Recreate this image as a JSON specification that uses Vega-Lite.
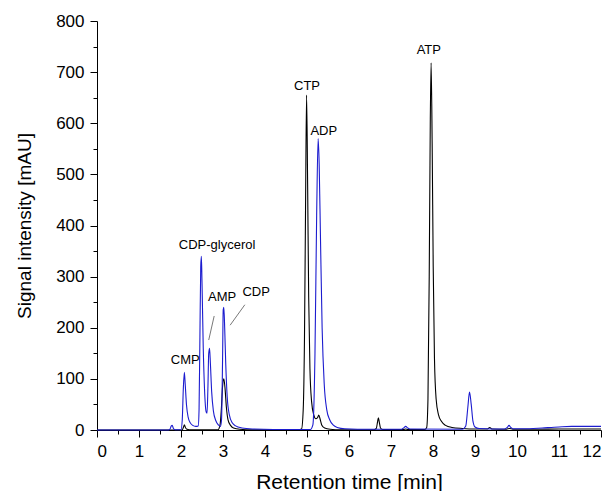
{
  "$schema": "https://vega.github.io/schema/vega-lite/v6.json",
  "width": 504,
  "height": 409,
  "autosize": {"type": "none"},
  "padding": {"left": 97, "top": 21, "right": 13, "bottom": 61},
  "background": "white",
  "config": {
    "view": {"stroke": null},
    "font": "Liberation Sans",
    "axis": {
      "grid": false,
      "domainColor": "black",
      "tickColor": "black",
      "labelColor": "black",
      "titleColor": "black",
      "labelFont": "Liberation Sans",
      "titleFont": "Liberation Sans",
      "labelFontSize": 17,
      "titleFontSize": 19,
      "titleFontWeight": "normal",
      "domainWidth": 1,
      "tickWidth": 1
    }
  },
  "datasets": {
    "traces": [
      {"s": "a", "t": 0, "v": 0}, {"s": "a", "t": 1.9, "v": 0}, {"s": "a", "t": 2.03, "v": 0}, {"s": "a", "t": 2.06, "v": 6}, {"s": "a", "t": 2.08, "v": 10}, {"s": "a", "t": 2.1, "v": 6}, {"s": "a", "t": 2.13, "v": 2}, {"s": "a", "t": 2.2, "v": 0.5}, {"s": "a", "t": 2.5, "v": 0.3}, {"s": "a", "t": 2.88, "v": 0.5}, {"s": "a", "t": 2.93, "v": 10}, {"s": "a", "t": 2.96, "v": 40}, {"s": "a", "t": 2.99, "v": 85}, {"s": "a", "t": 3.02, "v": 100}, {"s": "a", "t": 3.05, "v": 80}, {"s": "a", "t": 3.08, "v": 45}, {"s": "a", "t": 3.12, "v": 20}, {"s": "a", "t": 3.18, "v": 9}, {"s": "a", "t": 3.25, "v": 4}, {"s": "a", "t": 3.4, "v": 1.5}, {"s": "a", "t": 3.7, "v": 0.5}, {"s": "a", "t": 4.8, "v": 0.5},
      {"s": "a", "t": 4.87, "v": 2}, {"s": "a", "t": 4.91, "v": 40}, {"s": "a", "t": 4.94, "v": 180}, {"s": "a", "t": 4.965, "v": 430}, {"s": "a", "t": 4.99, "v": 655}, {"s": "a", "t": 5.015, "v": 480}, {"s": "a", "t": 5.04, "v": 260}, {"s": "a", "t": 5.07, "v": 120}, {"s": "a", "t": 5.11, "v": 55}, {"s": "a", "t": 5.16, "v": 30}, {"s": "a", "t": 5.21, "v": 22}, {"s": "a", "t": 5.25, "v": 24}, {"s": "a", "t": 5.28, "v": 29}, {"s": "a", "t": 5.31, "v": 22}, {"s": "a", "t": 5.35, "v": 10}, {"s": "a", "t": 5.42, "v": 4}, {"s": "a", "t": 5.55, "v": 1.5}, {"s": "a", "t": 5.8, "v": 0.5},
      {"s": "a", "t": 6.6, "v": 0.5}, {"s": "a", "t": 6.65, "v": 3}, {"s": "a", "t": 6.68, "v": 16}, {"s": "a", "t": 6.7, "v": 24}, {"s": "a", "t": 6.72, "v": 16}, {"s": "a", "t": 6.75, "v": 4}, {"s": "a", "t": 6.8, "v": 1}, {"s": "a", "t": 7.3, "v": 1}, {"s": "a", "t": 7.35, "v": 2}, {"s": "a", "t": 7.4, "v": 1},
      {"s": "a", "t": 7.8, "v": 0.8}, {"s": "a", "t": 7.85, "v": 5}, {"s": "a", "t": 7.88, "v": 60}, {"s": "a", "t": 7.91, "v": 300}, {"s": "a", "t": 7.935, "v": 600}, {"s": "a", "t": 7.955, "v": 718}, {"s": "a", "t": 7.98, "v": 560}, {"s": "a", "t": 8.005, "v": 320}, {"s": "a", "t": 8.035, "v": 140}, {"s": "a", "t": 8.075, "v": 60}, {"s": "a", "t": 8.13, "v": 30}, {"s": "a", "t": 8.2, "v": 17}, {"s": "a", "t": 8.3, "v": 9}, {"s": "a", "t": 8.45, "v": 5}, {"s": "a", "t": 8.7, "v": 3}, {"s": "a", "t": 9.0, "v": 2}, {"s": "a", "t": 9.3, "v": 2}, {"s": "a", "t": 9.35, "v": 5}, {"s": "a", "t": 9.4, "v": 2}, {"s": "a", "t": 9.75, "v": 1.5}, {"s": "a", "t": 9.82, "v": 3}, {"s": "a", "t": 9.9, "v": 1.5}, {"s": "a", "t": 10.5, "v": 1.5}, {"s": "a", "t": 11, "v": 2}, {"s": "a", "t": 12, "v": 2},
      {"s": "b", "t": 0, "v": 0}, {"s": "b", "t": 1.7, "v": 0}, {"s": "b", "t": 1.74, "v": 2}, {"s": "b", "t": 1.77, "v": 8}, {"s": "b", "t": 1.79, "v": 9}, {"s": "b", "t": 1.82, "v": 3}, {"s": "b", "t": 1.86, "v": 0.5}, {"s": "b", "t": 2.0, "v": 0.5}, {"s": "b", "t": 2.03, "v": 20}, {"s": "b", "t": 2.055, "v": 80}, {"s": "b", "t": 2.08, "v": 113}, {"s": "b", "t": 2.1, "v": 90}, {"s": "b", "t": 2.13, "v": 50}, {"s": "b", "t": 2.17, "v": 25}, {"s": "b", "t": 2.22, "v": 14}, {"s": "b", "t": 2.28, "v": 9}, {"s": "b", "t": 2.35, "v": 7}, {"s": "b", "t": 2.41, "v": 8}, {"s": "b", "t": 2.43, "v": 40}, {"s": "b", "t": 2.45, "v": 180}, {"s": "b", "t": 2.47, "v": 320}, {"s": "b", "t": 2.485, "v": 340}, {"s": "b", "t": 2.5, "v": 290}, {"s": "b", "t": 2.53, "v": 160}, {"s": "b", "t": 2.56, "v": 80}, {"s": "b", "t": 2.6, "v": 35}, {"s": "b", "t": 2.62, "v": 33}, {"s": "b", "t": 2.64, "v": 80}, {"s": "b", "t": 2.66, "v": 150}, {"s": "b", "t": 2.68, "v": 160}, {"s": "b", "t": 2.7, "v": 130}, {"s": "b", "t": 2.73, "v": 75}, {"s": "b", "t": 2.77, "v": 38}, {"s": "b", "t": 2.83, "v": 18}, {"s": "b", "t": 2.89, "v": 10}, {"s": "b", "t": 2.94, "v": 7}, {"s": "b", "t": 2.965, "v": 20}, {"s": "b", "t": 2.99, "v": 140}, {"s": "b", "t": 3.005, "v": 235}, {"s": "b", "t": 3.02, "v": 240}, {"s": "b", "t": 3.04, "v": 200}, {"s": "b", "t": 3.065, "v": 130}, {"s": "b", "t": 3.1, "v": 65}, {"s": "b", "t": 3.15, "v": 30}, {"s": "b", "t": 3.22, "v": 14}, {"s": "b", "t": 3.3, "v": 8}, {"s": "b", "t": 3.45, "v": 4}, {"s": "b", "t": 3.7, "v": 2}, {"s": "b", "t": 4.2, "v": 1},
      {"s": "b", "t": 5.08, "v": 1}, {"s": "b", "t": 5.14, "v": 10}, {"s": "b", "t": 5.19, "v": 150}, {"s": "b", "t": 5.23, "v": 420}, {"s": "b", "t": 5.265, "v": 570}, {"s": "b", "t": 5.29, "v": 520}, {"s": "b", "t": 5.32, "v": 380}, {"s": "b", "t": 5.36, "v": 200}, {"s": "b", "t": 5.41, "v": 90}, {"s": "b", "t": 5.47, "v": 40}, {"s": "b", "t": 5.54, "v": 20}, {"s": "b", "t": 5.62, "v": 10}, {"s": "b", "t": 5.72, "v": 5}, {"s": "b", "t": 5.9, "v": 2.5}, {"s": "b", "t": 6.5, "v": 1.5}, {"s": "b", "t": 7.25, "v": 1.5}, {"s": "b", "t": 7.3, "v": 4}, {"s": "b", "t": 7.35, "v": 7}, {"s": "b", "t": 7.4, "v": 4}, {"s": "b", "t": 7.45, "v": 2},
      {"s": "b", "t": 8.7, "v": 1.5}, {"s": "b", "t": 8.78, "v": 8}, {"s": "b", "t": 8.83, "v": 45}, {"s": "b", "t": 8.87, "v": 74}, {"s": "b", "t": 8.91, "v": 50}, {"s": "b", "t": 8.95, "v": 18}, {"s": "b", "t": 9.0, "v": 6}, {"s": "b", "t": 9.1, "v": 3}, {"s": "b", "t": 9.7, "v": 2}, {"s": "b", "t": 9.77, "v": 5}, {"s": "b", "t": 9.81, "v": 9}, {"s": "b", "t": 9.85, "v": 5}, {"s": "b", "t": 9.9, "v": 2.5}, {"s": "b", "t": 10.3, "v": 2.5}, {"s": "b", "t": 10.6, "v": 4}, {"s": "b", "t": 11.0, "v": 6}, {"s": "b", "t": 11.3, "v": 7}, {"s": "b", "t": 12, "v": 7}
    ],
    "labels": [
      {"name": "CMP", "t": 2.1, "v": 137},
      {"name": "CDP-glycerol", "t": 2.86, "v": 362},
      {"name": "AMP", "t": 2.98, "v": 260},
      {"name": "CDP", "t": 3.79, "v": 270},
      {"name": "CTP", "t": 5.0, "v": 673},
      {"name": "ADP", "t": 5.4, "v": 585},
      {"name": "ATP", "t": 7.9, "v": 744}
    ],
    "pointers": [
      {"t": 2.66, "v": 176, "t2": 2.79, "v2": 223},
      {"t": 3.17, "v": 205, "t2": 3.52, "v2": 245}
    ]
  },
  "resolve": {"axis": {"x": "independent", "y": "independent"}},
  "layer": [
    {
      "data": {"name": "traces"},
      "mark": {"type": "line", "strokeWidth": 1.1, "interpolate": "monotone"},
      "encoding": {
        "x": {"field": "t", "type": "quantitative", "scale": {"domain": [0, 12], "nice": false, "zero": false},
              "axis": {"orient": "bottom", "title": "Retention time [min]", "titleFontSize": 21, "values": [0,1,2,3,4,5,6,7,8,9,10,11,12], "tickSize": 7, "labelPadding": 6, "titlePadding": 12}},
        "y": {"field": "v", "type": "quantitative", "scale": {"domain": [0, 800], "nice": false},
              "axis": {"orient": "left", "title": "Signal intensity [mAU]", "values": [0,100,200,300,400,500,600,700,800], "tickSize": 7, "labelPadding": 6, "titlePadding": 21}},
        "color": {"field": "s", "type": "nominal", "scale": {"domain": ["a", "b"], "range": ["#000000", "#1c1ccf"]}, "legend": null}
      }
    },
    {
      "data": {"name": "labels"},
      "mark": {"type": "text", "fontSize": 13, "font": "Liberation Sans", "color": "black"},
      "encoding": {
        "x": {"field": "t", "type": "quantitative",
              "axis": {"orient": "bottom", "title": null, "labels": false, "domain": false, "tickSize": 4, "values": [0.5,1.5,2.5,3.5,4.5,5.5,6.5,7.5,8.5,9.5,10.5,11.5]}},
        "y": {"field": "v", "type": "quantitative",
              "axis": {"orient": "left", "title": null, "labels": false, "domain": false, "tickSize": 4, "values": [50,150,250,350,450,550,650,750]}},
        "text": {"field": "name"}
      }
    },
    {
      "data": {"name": "pointers"},
      "mark": {"type": "rule", "color": "#555555", "strokeWidth": 0.8},
      "encoding": {
        "x": {"field": "t", "type": "quantitative", "axis": null},
        "y": {"field": "v", "type": "quantitative", "axis": null},
        "x2": {"field": "t2"},
        "y2": {"field": "v2"}
      }
    }
  ]
}
